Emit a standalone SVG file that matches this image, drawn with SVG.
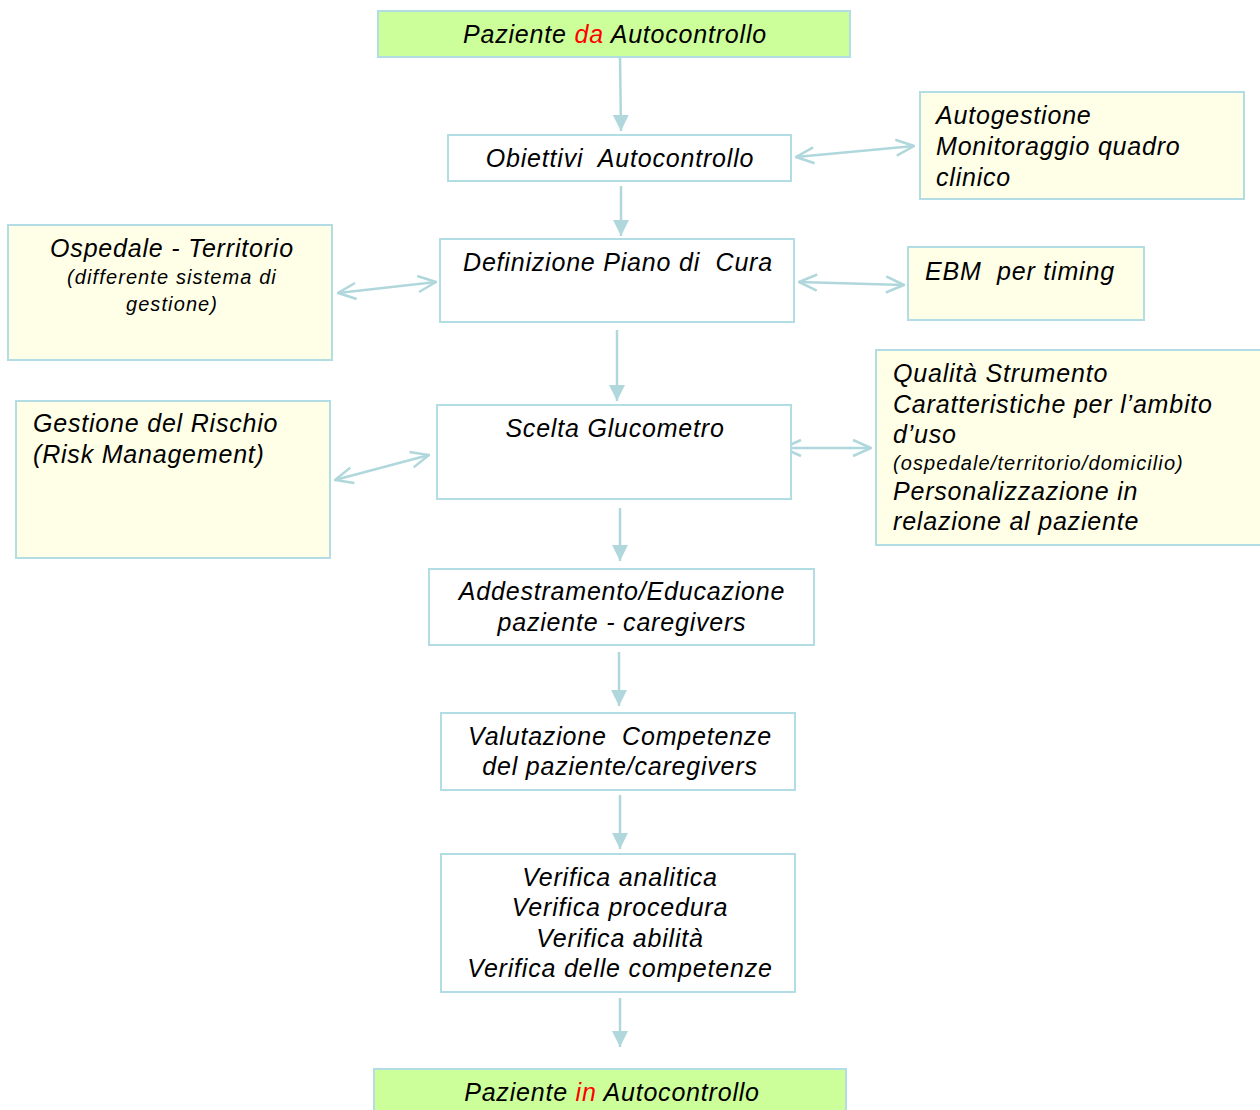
<svg xmlns="http://www.w3.org/2000/svg" width="1260" height="1110" viewBox="0 0 1260 1110">
<style>
.box{stroke:#b2dde4;stroke-width:2}
.g{fill:#ccff99}
.y{fill:#ffffe8}
.w{fill:#ffffff}
text{font-family:"Liberation Sans",Arial,sans-serif;font-style:italic;font-size:25px;letter-spacing:0.8px;fill:#000}
.s{font-size:20px;letter-spacing:1.1px}
.c{text-anchor:middle}
.red{fill:#ff0000}
.conn{stroke:#b0d8dc;stroke-width:2.5;fill:none}
</style>
<defs>
<marker id="tri" viewBox="0 0 10 10" refX="10" refY="5" markerWidth="16" markerHeight="16" markerUnits="userSpaceOnUse" orient="auto">
<path d="M0,0 L10,5 L0,10 Z" fill="#b0d8dc"/>
</marker>
<marker id="open" viewBox="0 0 20 20" refX="19" refY="10" markerWidth="20" markerHeight="20" markerUnits="userSpaceOnUse" orient="auto-start-reverse">
<path d="M1,2 L19,10 L1,18" fill="none" stroke="#b0d8dc" stroke-width="2.5"/>
</marker>
</defs>
<g id="connectors">
<line class="conn" x1="620" y1="57" x2="621" y2="131" marker-end="url(#tri)"/>
<line class="conn" x1="621" y1="186" x2="621" y2="236" marker-end="url(#tri)"/>
<line class="conn" x1="617" y1="330" x2="617" y2="401" marker-end="url(#tri)"/>
<line class="conn" x1="620" y1="508" x2="620" y2="561" marker-end="url(#tri)"/>
<line class="conn" x1="619" y1="652" x2="619" y2="706" marker-end="url(#tri)"/>
<line class="conn" x1="620" y1="795" x2="620" y2="849" marker-end="url(#tri)"/>
<line class="conn" x1="620" y1="998" x2="620" y2="1047" marker-end="url(#tri)"/>
<line class="conn" x1="796" y1="157" x2="914" y2="146" marker-start="url(#open)" marker-end="url(#open)"/>
<line class="conn" x1="338" y1="293" x2="436" y2="282" marker-start="url(#open)" marker-end="url(#open)"/>
<line class="conn" x1="799" y1="282" x2="904" y2="285" marker-start="url(#open)" marker-end="url(#open)"/>
<line class="conn" x1="335" y1="480" x2="429" y2="455" marker-start="url(#open)" marker-end="url(#open)"/>
<line class="conn" x1="783" y1="448" x2="871" y2="448" marker-start="url(#open)" marker-end="url(#open)"/>
</g>
<g id="n-start">
<rect class="box g" x="378" y="11" width="472" height="46"/>
<text class="c" x="615" y="43">Paziente <tspan class="red">da</tspan> Autocontrollo</text>
</g>
<g id="n-obiettivi">
<rect class="box w" x="448" y="135" width="343" height="46"/>
<text class="c" x="620" y="167" xml:space="preserve">Obiettivi  Autocontrollo</text>
</g>
<g id="n-autogestione">
<rect class="box y" x="920" y="92" width="324" height="107"/>
<text x="936" y="124">Autogestione</text>
<text x="936" y="155">Monitoraggio quadro</text>
<text x="936" y="186">clinico</text>
</g>
<g id="n-definizione">
<rect class="box w" x="440" y="239" width="354" height="83"/>
<text class="c" x="618" y="271" xml:space="preserve">Definizione Piano di  Cura</text>
</g>
<g id="n-ospedale">
<rect class="box y" x="8" y="225" width="324" height="135"/>
<text class="c" x="172" y="257">Ospedale - Territorio</text>
<text class="c s" x="172" y="284">(differente sistema di</text>
<text class="c s" x="172" y="311">gestione)</text>
</g>
<g id="n-ebm">
<rect class="box y" x="908" y="247" width="236" height="73"/>
<text x="925" y="280" xml:space="preserve">EBM  per timing</text>
</g>
<g id="n-scelta">
<rect class="box w" x="437" y="405" width="354" height="94"/>
<text class="c" x="615" y="437">Scelta Glucometro</text>
</g>
<g id="n-rischio">
<rect class="box y" x="16" y="401" width="314" height="157"/>
<text x="33" y="432">Gestione del Rischio</text>
<text x="33" y="463">(Risk Management)</text>
</g>
<g id="n-qualita">
<rect class="box y" x="876" y="350" width="392" height="195"/>
<text x="893" y="382">Qualità Strumento</text>
<text x="893" y="413">Caratteristiche per l’ambito</text>
<text x="893" y="443">d’uso</text>
<text class="s" x="893" y="470">(ospedale/territorio/domicilio)</text>
<text x="893" y="500">Personalizzazione in</text>
<text x="893" y="530">relazione al paziente</text>
</g>
<g id="n-addestramento">
<rect class="box w" x="429" y="569" width="385" height="76"/>
<text class="c" x="622" y="600">Addestramento/Educazione</text>
<text class="c" x="622" y="631">paziente - caregivers</text>
</g>
<g id="n-valutazione">
<rect class="box w" x="441" y="713" width="354" height="77"/>
<text class="c" x="620" y="745" xml:space="preserve">Valutazione  Competenze</text>
<text class="c" x="620" y="775">del paziente/caregivers</text>
</g>
<g id="n-verifica">
<rect class="box w" x="441" y="854" width="354" height="138"/>
<text class="c" x="620" y="886">Verifica analitica</text>
<text class="c" x="620" y="916">Verifica procedura</text>
<text class="c" x="620" y="947">Verifica abilità</text>
<text class="c" x="620" y="977">Verifica delle competenze</text>
</g>
<g id="n-end">
<rect class="box g" x="374" y="1069" width="472" height="50"/>
<text class="c" x="612" y="1101">Paziente <tspan class="red">in</tspan> Autocontrollo</text>
</g>
</svg>
